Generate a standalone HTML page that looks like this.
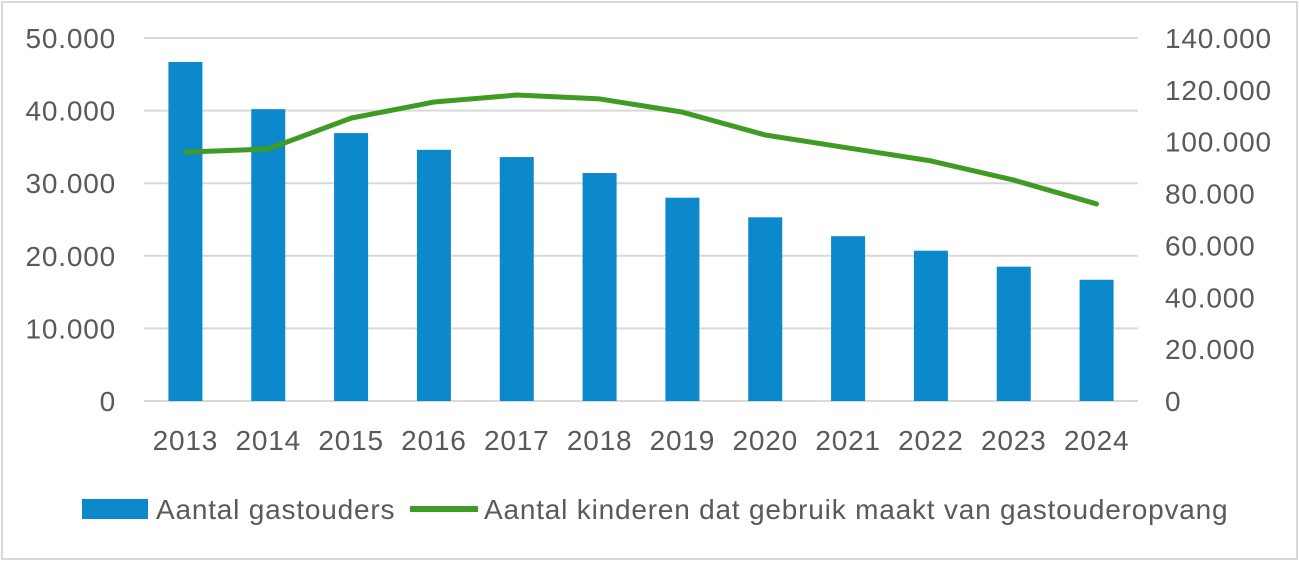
<!DOCTYPE html>
<html><head><meta charset="utf-8"><style>
body{margin:0;background:#fff;}
svg text{font-family:"Liberation Sans",sans-serif;fill:#595959;font-size:28px;letter-spacing:0.8px;}
</style></head><body>
<svg id="chart" width="1299" height="561" xmlns="http://www.w3.org/2000/svg">
<rect x="2" y="2" width="1295" height="557" fill="#fff" stroke="#d9d9d9" stroke-width="2"/>
<g id="grid"></g><g id="bars"></g><g id="line"></g><g id="axes"></g>
<g>
<rect x="82" y="499" width="66" height="20" fill="#0b89cb"/>
<text x="156" y="519">Aantal gastouders</text>
<line x1="410" y1="509" x2="478" y2="509" stroke="#3f9b23" stroke-width="6"/>
<text x="484" y="519">Aantal kinderen dat gebruik maakt van gastouderopvang</text>
</g>
</svg>
<script>
const years=["2013","2014","2015","2016","2017","2018","2019","2020","2021","2022","2023","2024"];
const gastouders=[46700,40200,36900,34600,33600,31400,28000,25300,22700,20700,18500,16700];
const kinderen=[96000,97200,109100,115300,118000,116500,111400,102600,97600,92600,85200,76000];
const leftTicks=[0,10000,20000,30000,40000,50000];
const rightTicks=[0,20000,40000,60000,80000,100000,120000,140000];
const NS="http://www.w3.org/2000/svg";
const x0=144,x1=1138,yB=401,yT=38;
const band=(x1-x0)/years.length;
const xc=i=>x0+band*(i+0.5);
const yL=v=>yB-(v/50000)*(yB-yT);
const yR=v=>yB-(v/140000)*(yB-yT);
const fmt=v=>v===0?"0":(v/1000).toFixed(0)+".000";
function mk(t,a,p){const e=document.createElementNS(NS,t);for(const k in a)e.setAttribute(k,a[k]);p.appendChild(e);return e;}
const g=document.getElementById('grid'),b=document.getElementById('bars'),l=document.getElementById('line'),ax=document.getElementById('axes');
leftTicks.forEach(v=>{
 const ln=mk('line',{x1:x0,x2:x1,y1:yL(v),y2:yL(v),stroke:'#d9d9d9','stroke-width':2},g);
 
 
 const t=mk('text',{x:116,y:yL(v)+10,'text-anchor':'end'},ax);t.textContent=fmt(v);
 
 
});
rightTicks.forEach(v=>{
 const t=mk('text',{x:1165,y:yR(v)+10},ax);t.textContent=fmt(v);
 
 
});
years.forEach((y,i)=>{
 const r=mk('rect',{x:xc(i)-17,y:yL(gastouders[i]),width:34,height:yB-yL(gastouders[i]),fill:'#0b89cb'},b);
 
 
 const t=mk('text',{x:xc(i),y:450,'text-anchor':'middle'},ax);t.textContent=y;
 
 
});
const p=mk('polyline',{points:kinderen.map((v,i)=>xc(i)+','+yR(v)).join(' '),fill:'none',stroke:'#3f9b23','stroke-width':5,'stroke-linejoin':'round','stroke-linecap':'round'},l);


</script>
</body></html>
